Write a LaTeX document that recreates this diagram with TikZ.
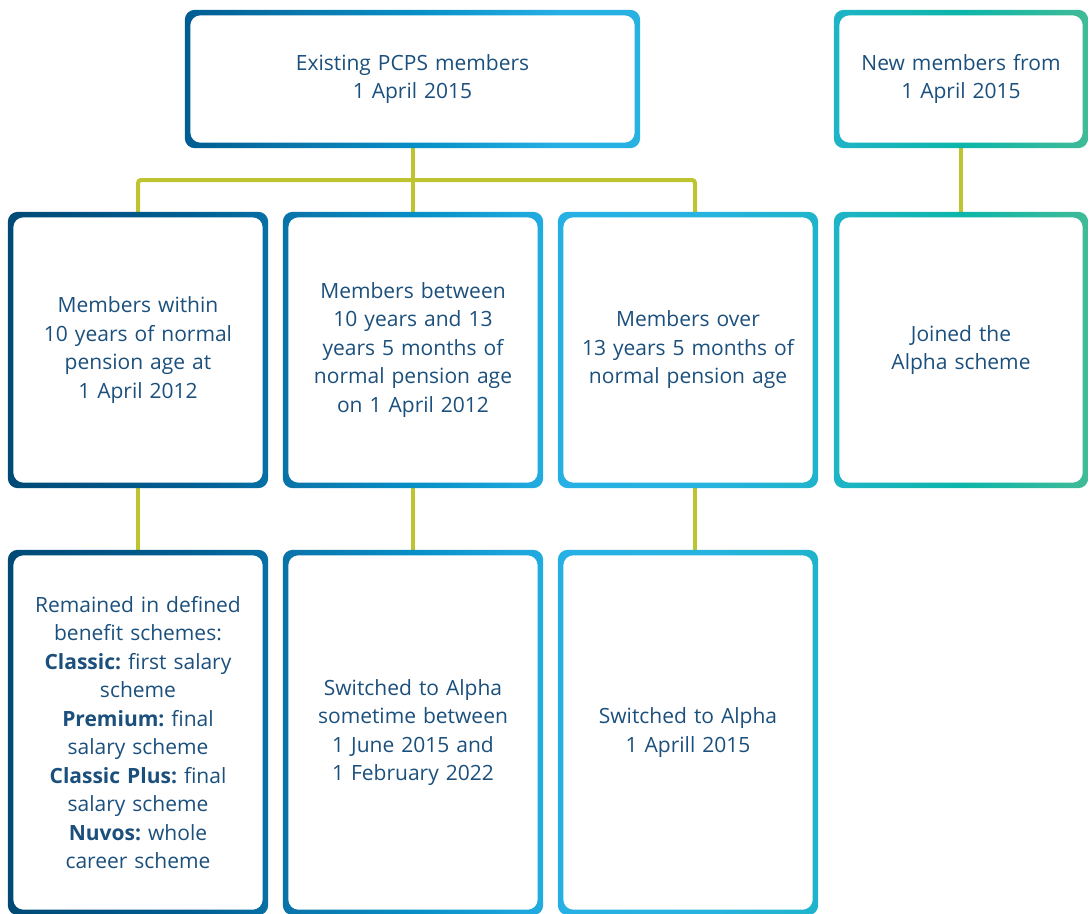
\documentclass[tikz,border=0pt]{standalone}
\usepackage{fontspec}
\setmainfont{Open Sans}
\frenchspacing

\definecolor{bsA}{HTML}{004A75}
\definecolor{bsB}{HTML}{005E93}
\definecolor{bsC}{HTML}{0A76AB}
\definecolor{bsD}{HTML}{078FC6}
\definecolor{bsE}{HTML}{26B0E4}
\definecolor{bsF}{HTML}{27B3E0}
\definecolor{bsG}{HTML}{1FB4CA}
\definecolor{bsH}{HTML}{0CB5A9}
\definecolor{bsI}{HTML}{40BB98}
\definecolor{txtblue}{HTML}{1B4F7C}
\definecolor{linkgreen}{HTML}{BDC42F}

\pgfdeclarehorizontalshading{bordershade}{100bp}{color(0bp)=(bsA); color(25bp)=(bsA); color(33.5bp)=(bsB); color(38.3bp)=(bsC); color(43.9bp)=(bsD); color(50.7bp)=(bsE); color(57.1bp)=(bsF); color(62.6bp)=(bsG); color(69.1bp)=(bsH); color(75bp)=(bsI); color(100bp)=(bsI)}

\begin{document}
\begin{tikzpicture}[x=1pt,y=-1pt]
\tikzset{
  infobox/.style={rectangle,inner sep=0pt,text width=244pt,align=center,text=txtblue,font=\fontsize{21}{28.5}\selectfont},
  toprow/.style={infobox,minimum height=138pt},
  midrow/.style={infobox,minimum width=260pt,minimum height=276pt},
  lowrow/.style={infobox,minimum width=260pt,minimum height=365pt},
  link/.style={draw=linkgreen,line width=4pt}
}
\useasboundingbox (0,0) rectangle (1089,913);
\node[toprow,minimum width=455pt] (ex) at (412.5,79) {Existing PCPS members\\1 April 2015};
\node[toprow,minimum width=254pt] (nw) at (961,79) {New members from\\1 April 2015};
\node[midrow] (a) at (138,350) {Members within\\10 years of normal\\pension age at\\1 April 2012};
\node[midrow] (b) at (413,350) {Members between\\10 years and 13\\years 5 months of\\normal pension age\\on 1 April 2012};
\node[midrow] (c) at (688,350) {Members over\\13 years 5 months of\\normal pension age};
\node[midrow,minimum width=254pt] (d) at (961,350) {Joined the\\Alpha scheme};
\node[lowrow] (a2) at (138,732.5) {Remained in defined\\benefit schemes:\\\textbf{Classic:} first salary\\scheme\\\textbf{Premium:} final\\salary scheme\\\textbf{Classic Plus:} final\\salary scheme\\\textbf{Nuvos:} whole\\career scheme};
\node[lowrow] (b2) at (413,732.5) {Switched to Alpha\\sometime between\\1 June 2015 and\\1 February 2022};
\node[lowrow] (c2) at (688,732.5) {Switched to Alpha\\1 Aprill 2015};
\coordinate (bus) at (0,180);
% connectors
\draw[link] (ex.south) -- (ex.south |- bus);
\draw[link,rounded corners=3pt] (a.north) |- ([xshift=7pt]c.north |- bus) -- ([xshift=7pt]c.north);
\draw[link] (b.north) -- (b.north |- bus);
\draw[link] (nw.south) -- (d.north);
\draw[link] (a.south) -- (a2.north);
\draw[link] (b.south) -- (b2.north);
\draw[link] ([xshift=7pt]c.south) -- ([xshift=7pt]c2.north);
% gradient borders
\shade[shading=bordershade,even odd rule,rounded corners=10pt] \foreach \n in {ex,nw,a,b,c,d,a2,b2,c2} {(\n.north west) rectangle (\n.south east) ([shift={(5.5pt,-5.5pt)}]\n.north west) rectangle ([shift={(-5.5pt,5.5pt)}]\n.south east)};
\end{tikzpicture}
\end{document}
